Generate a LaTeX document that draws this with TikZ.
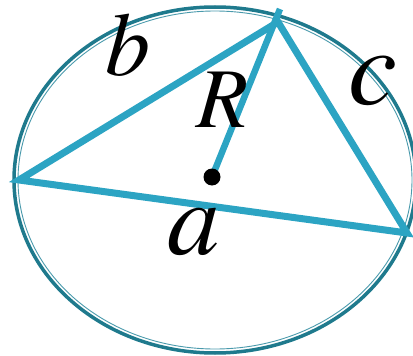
\documentclass[tikz,border=0pt]{standalone}
\usepackage{tikz}
\definecolor{rim}{HTML}{1F7A8D}
\definecolor{rimin}{HTML}{4A9AAC}
\definecolor{side}{HTML}{2CA4C3}
\newcommand{\labsize}[1]{\usefont{OT1}{ptm}{m}{it}\fontsize{#1}{#1}\selectfont}

\begin{document}
\begin{tikzpicture}[x=1pt,y=-1pt]
            \useasboundingbox (0,0) rectangle (413,356);
            \coordinate (A) at (19,180);
            \coordinate (B) at (278,22);
            \coordinate (C) at (407,233);
            \coordinate (O) at (212,177);
            \coordinate (T) at (280,9);
            \coordinate (E) at (215,180);
            \draw[rim, line width=3.5pt] (E) ellipse [x radius=201pt, y radius=173pt];
            \draw[rimin, line width=0.9pt] (E) ellipse [x radius=197pt, y radius=169pt];
            \draw[side, line width=7pt] (A) -- (B) -- (C) -- cycle;
            \draw[side, line width=6.5pt] (O) -- (T);
            \fill (O) circle (8.5pt);
            \node[anchor=base] (lb) at (128,75) {\labsize{90}b};
            \node[anchor=base] (lc) at (373,104) {\labsize{110}c};
            \node[anchor=base] (la) at (194,254) {\labsize{105}a};
            \node[anchor=base] (lR) at (222,127) {\labsize{85}R};
        \end{tikzpicture}
\end{document}
